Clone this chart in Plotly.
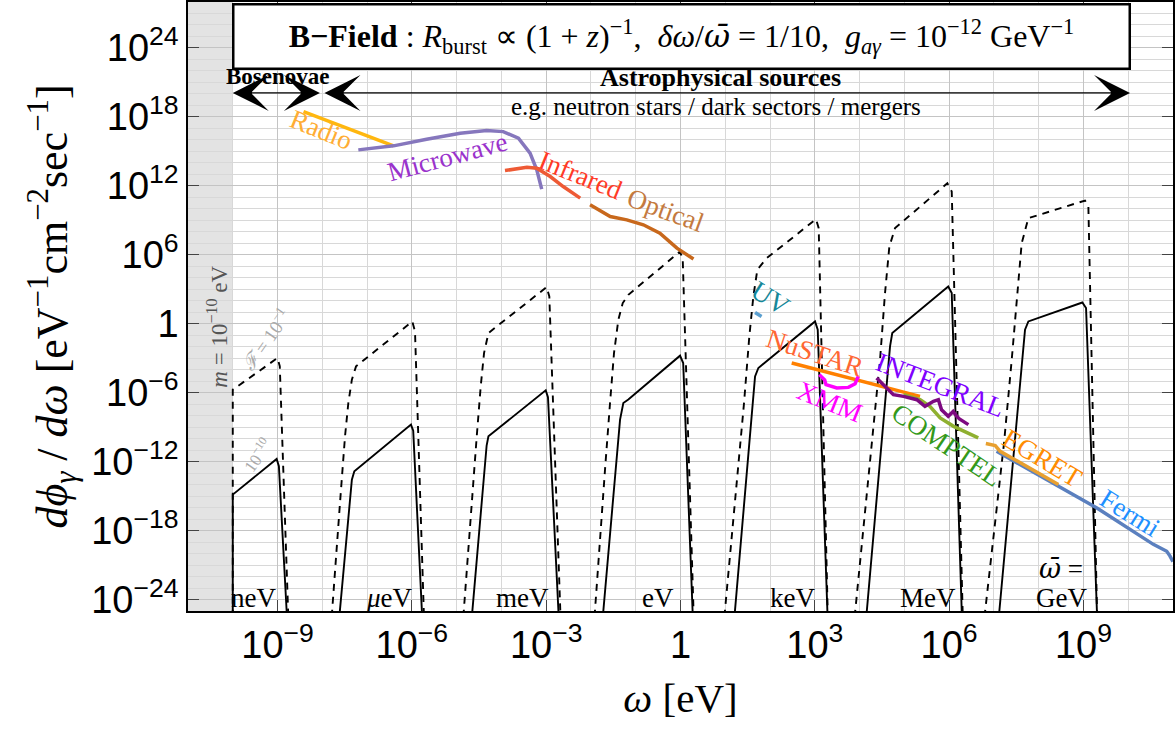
import numpy as np
import plotly.graph_objects as go

# ---------------- axis ticks ----------------
x_tickvals = [1e-9, 1e-6, 1e-3, 1, 1e3, 1e6, 1e9]
x_ticktext = ["10<sup>−9</sup>", "10<sup>−6</sup>", "10<sup>−3</sup>", "1",
              "10<sup>3</sup>", "10<sup>6</sup>", "10<sup>9</sup>"]
y_tickvals = [1e-24, 1e-18, 1e-12, 1e-6, 1, 1e6, 1e12, 1e18, 1e24]
y_ticktext = ["10<sup>−24</sup>", "10<sup>−18</sup>", "10<sup>−12</sup>", "10<sup>−6</sup>", "1",
              "10<sup>6</sup>", "10<sup>12</sup>", "10<sup>18</sup>", "10<sup>24</sup>"]
x_decades = [10.0 ** k for k in range(-11, 12)]
y_decades = [10.0 ** k for k in range(-25, 29)]

# ---------------- axion burst spectra (log10 omega [eV], log10 flux) ----------------
# solid: F = 1e-10, dashed: F = 1e-1
neV_solid_lx = [-10.0, -10.0, -9.02, -8.97, -8.79]
neV_solid_ly = [-25.5, -14.87, -11.77, -12.4, -25.5]
neV_dash_lx = [-10.0, -10.0, -9.0, -8.95, -8.76]
neV_dash_ly = [-25.5, -5.74, -2.98, -3.7, -25.5]

ueV_solid_lx = [-7.62, -7.34, -7.285, -6.02, -5.97, -5.77]
ueV_solid_ly = [-25.5, -13.57, -12.84, -8.78, -9.3, -25.5]
ueV_dash_lx = [-7.79, -7.717, -7.605, -7.493, -7.419, -7.34, -7.247, -5.99, -5.93, -5.73]
ueV_dash_ly = [-25.5, -21.39, -15.59, -9.8, -6.9, -4.87, -3.71, 0.2, -0.67, -25.5]

meV_solid_lx = [-4.66, -4.33, -4.29, -3.01, -2.96, -2.72]
meV_solid_ly = [-25.5, -10.6, -9.8, -5.8, -6.4, -25.5]
meV_dash_lx = [-4.85, -4.775, -4.663, -4.551, -4.462, -4.388, -4.29, -2.99, -2.93, -2.68]
meV_dash_ly = [-25.5, -21.39, -15.59, -9.8, -5.45, -2.55, -0.81, 3.19, 2.37, -25.5]

eV_solid_lx = [-1.735, -1.35, -1.277, -1.165, -0.01, 0.06, 0.275]
eV_solid_ly = [-25.5, -8.35, -6.9, -6.6, -2.78, -3.42, -25.5]
eV_dash_lx = [-1.92, -1.797, -1.686, -1.574, -1.485, -1.388, -1.29, -1.165, -0.01, 0.05, 0.295]
eV_dash_ly = [-25.5, -18.5, -12.7, -6.9, -2.55, 0.35, 1.8, 2.52, 6.29, 5.57, -25.5]

keV_solid_lx = [1.205, 1.665, 1.739, 3.005, 3.065, 3.285]
keV_solid_ly = [-25.5, -4.58, -3.85, 0.2, -0.52, -25.5]
keV_dash_lx = [0.98, 1.144, 1.292, 1.419, 1.537, 1.627, 1.716, 1.926, 3.027, 3.087, 3.29]
keV_dash_ly = [-25.5, -18.5, -12.7, -6.9, -1.1, 2.37, 4.7, 5.71, 9.1, 8.32, -25.5]

MeV_solid_lx = [4.15, 4.68, 4.73, 5.98, 6.058, 6.285]
MeV_solid_ly = [-25.5, -1.97, -0.81, 3.24, 2.67, -25.5]
MeV_dash_lx = [3.89, 4.084, 4.27, 4.457, 4.568, 4.665, 4.792, 5.96, 6.058, 6.305]
MeV_dash_ly = [-25.5, -17.63, -10.38, -3.13, 2.67, 6.72, 8.32, 12.23, 11.5, -25.5]

GeV_solid_lx = [7.11, 7.695, 7.77, 8.975, 9.058, 9.305]
GeV_solid_ly = [-25.5, -0.52, 0.2, 1.85, 1.37, -25.5]
GeV_dash_lx = [6.79, 7.025, 7.226, 7.398, 7.524, 7.62, 7.77, 9.035, 9.11, 9.305]
GeV_dash_ly = [-25.5, -17.63, -10.38, -3.13, 2.67, 7.0, 9.19, 10.72, 10.2, -25.5]

# ---------------- astrophysical backgrounds (log10 omega, log10 flux) ----------------
radio_lx = [-8.42, -6.41]
radio_ly = [18.46, 15.48]
microwave_lx = [-7.196, -6.41, -5.67, -4.92, -4.33, -3.96, -3.62, -3.36, -3.21, -3.10]
microwave_ly = [15.13, 15.48, 16.06, 16.58, 16.81, 16.72, 16.15, 14.84, 13.39, 11.71]
infrared_lx = [-3.92, -3.43, -3.21, -2.91, -2.62, -2.24]
infrared_ly = [13.33, 13.62, 13.53, 12.81, 11.94, 10.93]
optical_lx = [-2.02, -1.57, -1.20, -0.83, -0.46, -0.08, 0.29]
optical_ly = [10.35, 9.33, 9.04, 8.61, 7.88, 6.58, 5.63]
uv_lx = [1.665, 1.81]
uv_ly = [0.98, 0.63]
nustar_lx = [2.484, 5.35]
nustar_ly = [-3.42, -6.32]
xmm_lx = [3.10, 3.22, 3.25, 3.49, 3.75, 3.90, 3.97]
xmm_ly = [-4.43, -4.9, -5.30, -5.59, -5.54, -5.22, -4.58]
integral_lx = [4.38, 4.61, 4.755, 4.98, 5.28, 5.46, 5.65, 5.76, 5.83, 5.98, 6.09, 6.17, 6.23, 6.43]
integral_ly = [-4.73, -5.59, -6.17, -6.32, -6.61, -7.19, -6.75, -6.61, -7.48, -8.06, -7.63, -8.06, -8.29, -8.78]
comptel_lx = [4.98, 5.35, 5.57, 5.80, 6.10, 6.65]
comptel_ly = [-6.17, -6.61, -7.19, -8.2, -8.93, -9.94]
egret_lx = [6.82, 7.03, 7.14, 7.73, 8.44]
egret_ly = [-10.43, -10.6, -11.1, -12.4, -14.0]
fermi_lx = [7.06, 8.33, 9.30, 10.56, 10.86, 10.93, 11.0]
fermi_ly = [-11.1, -13.85, -16.03, -19.2, -19.8, -20.2, -20.7]

fig = go.Figure()

def P(v):
    return np.power(10.0, np.array(v, dtype=float))

black_curves = [
    (neV_solid_lx, neV_solid_ly, "solid"), (neV_dash_lx, neV_dash_ly, "dash"),
    (ueV_solid_lx, ueV_solid_ly, "solid"), (ueV_dash_lx, ueV_dash_ly, "dash"),
    (meV_solid_lx, meV_solid_ly, "solid"), (meV_dash_lx, meV_dash_ly, "dash"),
    (eV_solid_lx, eV_solid_ly, "solid"), (eV_dash_lx, eV_dash_ly, "dash"),
    (keV_solid_lx, keV_solid_ly, "solid"), (keV_dash_lx, keV_dash_ly, "dash"),
    (MeV_solid_lx, MeV_solid_ly, "solid"), (MeV_dash_lx, MeV_dash_ly, "dash"),
    (GeV_solid_lx, GeV_solid_ly, "solid"), (GeV_dash_lx, GeV_dash_ly, "dash"),
]
for lx, ly, d in black_curves:
    fig.add_trace(go.Scatter(
        x=P(lx), y=P(ly), mode="lines",
        line=dict(color="black", width=1.9, dash=("solid" if d == "solid" else "7px,6px")),
        showlegend=False, hoverinfo="skip"))

bg_curves = [
    (radio_lx, radio_ly, "#ffb70f"),
    (microwave_lx, microwave_ly, "#8677bd"),
    (infrared_lx, infrared_ly, "#ee5a35"),
    (optical_lx, optical_ly, "#c8681c"),
    (uv_lx, uv_ly, "#5a9fd0"),
    (nustar_lx, nustar_ly, "#ff8000"),
    (xmm_lx, xmm_ly, "#ff00ff"),
    (comptel_lx, comptel_ly, "#8fb030"),
    (integral_lx, integral_ly, "#7d0a80"),
    (fermi_lx, fermi_ly, "#5b80bf"),
    (egret_lx, egret_ly, "#e8a030"),
]
for lx, ly, c in bg_curves:
    fig.add_trace(go.Scatter(
        x=P(lx), y=P(ly), mode="lines",
        line=dict(color=c, width=3.5), showlegend=False, hoverinfo="skip"))

SERIF = "Liberation Serif"
OMB = "<span style='font-family:DejaVu Serif'><i>ω̄</i></span>"

# background labels: (text, log x, log y, angle, color)
bg_labels = [
    ("Radio", -8.01, 16.87, 22, "#ffad33"),
    ("Microwave", -5.215, 14.52, -15, "#9a33cc"),
    ("Infrared", -2.244, 12.96, 22, "#ff3a26"),
    ("Optical", -0.345, 9.91, 20, "#c47a40"),
    ("UV", 2.0, 2.26, 33, "#168899"),
    ("NuSTAR", 3.005, -2.52, 18, "#ff6633"),
    ("XMM", 3.34, -6.78, 22, "#ff00ff"),
    ("INTEGRAL", 5.80, -5.30, 21, "#8000ff"),
    ("COMPTEL", 5.95, -10.52, 34, "#33991a"),
    ("EGRET", 8.075, -11.65, 31, "#ff8c00"),
    ("Fermi", 10.04, -16.43, 32, "#1e90ff"),
]
for t, ax_, ay_, ang, c in bg_labels:
    fig.add_annotation(x=ax_, y=ay_, xref="x", yref="y", text=t, showarrow=False,
                       textangle=ang, font=dict(family=SERIF, size=27, color=c))

# energy-scale labels
scale_labels = [
    ("neV", -9.548, -23.83), ("<i>μ</i>eV", -6.51, -23.83), ("meV", -3.52, -23.83),
    ("eV", -0.50, -23.83), ("keV", 2.51, -23.83), ("MeV", 5.53, -23.83),
    ("GeV", 8.50, -23.83), (OMB + " =", 8.50, -21.3),
]
for t, ax_, ay_ in scale_labels:
    fig.add_annotation(x=ax_, y=ay_, xref="x", yref="y", text=t, showarrow=False,
                       font=dict(family=SERIF, size=27, color="black"))

# grey annotations
fig.add_annotation(x=-10.33, y=-0.26, xref="x", yref="y", showarrow=False, textangle=-90,
                   text="<i>m</i> = 10<sup>−10</sup> eV", font=dict(family=SERIF, size=23, color="#555555"))
fig.add_annotation(x=-9.28, y=-1.39, xref="x", yref="y", showarrow=False, textangle=-55,
                   text="<i>ℱ</i> = 10<sup>−1</sup>", font=dict(family=SERIF, size=19, color="#aaaaaa"))
fig.add_annotation(x=-9.46, y=-11.39, xref="x", yref="y", showarrow=False, textangle=-55,
                   text="10<sup>−10</sup>", font=dict(family=SERIF, size=17, color="#aaaaaa"))

# arrows
arrow_y = 20.09
for x_head, x_tail in [(-10.0, -8.02), (10.04, -7.985)]:
    fig.add_annotation(x=x_head, y=arrow_y, ax=x_tail, ay=arrow_y, xref="x", yref="y",
                       axref="x", ayref="y", text="", showarrow=True, arrowside="end+start",
                       arrowhead=3, startarrowhead=3, arrowsize=5.0, startarrowsize=5.0,
                       arrowwidth=1.2, arrowcolor="black", standoff=0, startstandoff=0)
fig.add_annotation(x=-8.99, y=21.55, xref="x", yref="y", showarrow=False,
                   text="<b>Bosenovae</b>", font=dict(family=SERIF, size=23, color="black"))
fig.add_annotation(x=0.883, y=21.4, xref="x", yref="y", showarrow=False,
                   text="<b>Astrophysical sources</b>", font=dict(family=SERIF, size=26, color="black"))
fig.add_annotation(x=0.794, y=18.87, xref="x", yref="y", showarrow=False,
                   text="e.g. neutron stars / dark sectors / mergers", font=dict(family=SERIF, size=25, color="black"))

# title box
fig.add_annotation(x=0.02, y=25.04, xref="x", yref="y", showarrow=False,
                   text="<b>B−Field</b> : <i>R</i><sub>burst</sub> ∝ (1 + <i>z</i>)<sup>−1</sup>,  "
                        "<i>δω</i>/" + OMB + " = 1/10,  <i>g</i><sub><i>aγ</i></sub> = 10<sup>−12</sup> GeV<sup>−1</sup>",
                   font=dict(family=SERIF, size=32, color="black"),
                   bordercolor="black", borderwidth=2.5, borderpad=2, bgcolor="white",
                   width=890, height=58)

# grey mass cut band
fig.add_shape(type="rect", xref="x", yref="paper", x0=1e-11, x1=1e-10, y0=0, y1=1,
              fillcolor="#e3e3e3", line=dict(width=0), layer="below")

fig.update_xaxes(type="log", range=[-11, 11], tickmode="array", tickvals=x_tickvals, ticktext=x_ticktext,
                 ticks="inside", ticklen=11, tickwidth=1.3, tickcolor="#444444",
                 showline=True, linecolor="black", linewidth=1.5, mirror="ticks",
                 showgrid=True, gridcolor="#c4c4c4", gridwidth=1, zeroline=False,
                 minor=dict(tickmode="array", tickvals=x_decades, showgrid=True, gridcolor="#d8d8d8",
                            ticks=""),
                 tickfont=dict(family="Liberation Sans", size=38, color="black"),
                 title=dict(text="<i>ω</i> [eV]", font=dict(family=SERIF, size=41, color="black"), standoff=18))
fig.update_yaxes(type="log", range=[-25, 28], tickmode="array", tickvals=y_tickvals, ticktext=y_ticktext,
                 ticks="inside", ticklen=11, tickwidth=1.3, tickcolor="#444444",
                 showline=True, linecolor="black", linewidth=1.5, mirror="ticks",
                 showgrid=True, gridcolor="#c4c4c4", gridwidth=1, zeroline=False,
                 minor=dict(tickmode="array", tickvals=y_decades, showgrid=True, gridcolor="#d8d8d8",
                            ticks=""),
                 tickfont=dict(family="Liberation Sans", size=38, color="black"),
                 title=dict(text="<i>dϕ</i><sub><i>γ</i></sub> / <i>dω</i> [eV<sup>−1</sup>cm<sup>−2</sup>sec<sup>−1</sup>]",
                            font=dict(family=SERIF, size=44, color="black"), standoff=10))

fig.update_layout(width=1175, height=736, margin=dict(l=188, r=2, t=2, b=125, autoexpand=False),
                  paper_bgcolor="white", plot_bgcolor="white", showlegend=False)

fig.write_html("out.html", config={"displayModeBar": False},
               post_script="document.body.style.margin='0px';")
